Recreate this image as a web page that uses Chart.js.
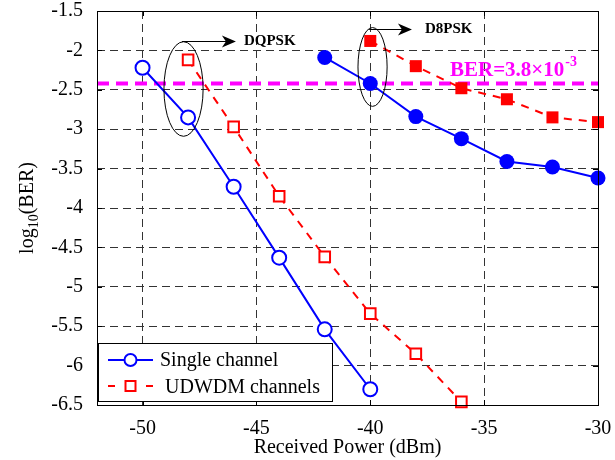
<!DOCTYPE html>
<html lang="en">
<head>
<meta charset="UTF-8" />
<title>BER vs Received Power</title>
<script src="https://cdn.jsdelivr.net/npm/chart.js"></script>
<style>
  html, body { margin: 0; padding: 0; background: #ffffff; }
  canvas { display: block; }
</style>
</head>
<body>
<canvas id="berChart" width="615" height="460"></canvas>
<script>
// axis ticks
const xTicks = [-50, -45, -40, -35, -30];
const yTicks = [-6.5, -6, -5.5, -5, -4.5, -4, -3.5, -3, -2.5, -2, -1.5];

// DQPSK curves
const dqpskSinglePower = [-50, -48, -46, -44, -42, -40];
const dqpskSingleBer = [-2.22, -2.85, -3.73, -4.63, -5.54, -6.3];
const dqpskUdwdmPower = [-48, -46, -44, -42, -40, -38, -36];
const dqpskUdwdmBer = [-2.12, -2.97, -3.85, -4.62, -5.34, -5.85, -6.46];

// D8PSK curves
const d8pskSinglePower = [-42, -40, -38, -36, -34, -32, -30];
const d8pskSingleBer = [-2.09, -2.42, -2.84, -3.12, -3.41, -3.48, -3.62];
const d8pskUdwdmPower = [-40, -38, -36, -34, -32, -30];
const d8pskUdwdmBer = [-1.88, -2.2, -2.48, -2.62, -2.85, -2.91];

// FEC limit
const berLimit = 3.8e-3;
const legendLabels = ["Single channel", "UDWDM channels"];

const FONT = "'Liberation Serif', 'Times New Roman', serif";
const BLUE = "#0000ff";
const RED = "#ff0000";
const MAGENTA = "#ff00ff";

function pts(xs, ys) {
  return xs.map((x, i) => ({ x: x, y: ys[i] }));
}

const logLimit = Math.log10(berLimit);

// everything that matlab draws on top: frame, inward ticks, ellipses, arrows, labels, legend
const decorPlugin = {
  id: "decor",
  afterDraw(chart) {
    const ctx = chart.ctx;
    const a = chart.chartArea;
    const xs = chart.scales.x;
    const ys = chart.scales.y;
    const px = (v) => xs.getPixelForValue(v);
    const py = (v) => ys.getPixelForValue(v);

    ctx.save();

    // frame
    ctx.strokeStyle = "#000";
    ctx.lineWidth = 1;
    ctx.setLineDash([]);
    ctx.strokeRect(a.left + 0.5, a.top + 0.5, a.right - a.left, a.bottom - a.top);

    // inward ticks
    ctx.beginPath();
    xTicks.forEach((v) => {
      const x = Math.round(px(v)) + 0.5;
      ctx.moveTo(x, a.bottom);
      ctx.lineTo(x, a.bottom - 5);
      ctx.moveTo(x, a.top);
      ctx.lineTo(x, a.top + 5);
    });
    yTicks.forEach((v) => {
      const y = Math.round(py(v)) + 0.5;
      ctx.moveTo(a.left, y);
      ctx.lineTo(a.left + 5, y);
      ctx.moveTo(a.right, y);
      ctx.lineTo(a.right - 5, y);
    });
    ctx.stroke();

    // ellipses round the crossing points
    ctx.beginPath();
    ctx.ellipse(px(-48.2), py(-2.49), xs.width / 22 * 0.86, ys.height / 5 * 0.6, 0, 0, Math.PI * 2);
    ctx.stroke();
    ctx.beginPath();
    ctx.ellipse(px(-39.9), py(-2.21), xs.width / 22 * 0.64, ys.height / 5 * 0.5, 0, 0, Math.PI * 2);
    ctx.stroke();

    // arrows + format labels
    function arrow(x1, x2, y) {
      ctx.beginPath();
      ctx.moveTo(x1, y);
      ctx.lineTo(x2 - 6, y);
      ctx.stroke();
      ctx.beginPath();
      ctx.moveTo(x2, y);
      ctx.lineTo(x2 - 14, y - 6);
      ctx.lineTo(x2 - 10, y);
      ctx.lineTo(x2 - 14, y + 6);
      ctx.closePath();
      ctx.fill();
    }
    ctx.fillStyle = "#000";
    const ay1 = Math.round(py(-1.88)) + 0.5;
    arrow(px(-48.27), px(-45.9), ay1);
    const ay2 = Math.round(py(-1.73)) + 0.5;
    arrow(px(-40.05), px(-38.17), ay2);

    ctx.font = "bold 15px " + FONT;
    ctx.textBaseline = "middle";
    ctx.textAlign = "left";
    ctx.fillText("DQPSK", px(-45.55), ay1);
    ctx.fillText("D8PSK", px(-37.6), ay2);

    // BER limit label
    ctx.fillStyle = MAGENTA;
    ctx.textBaseline = "alphabetic";
    ctx.font = "bold 21px " + FONT;
    const bx = px(-36.5);
    const by = py(-2.325);
    const main = "BER=3.8\u00d710";
    ctx.fillText(main, bx, by);
    const mw = ctx.measureText(main).width;
    ctx.font = "bold 14px " + FONT;
    ctx.fillText("-3", bx + mw + 1, by - 10);

    // y axis title with subscript
    ctx.fillStyle = "#000";
    ctx.translate(27, (a.top + a.bottom) / 2);
    ctx.rotate(-Math.PI / 2);
    ctx.font = "20px " + FONT;
    const w1 = ctx.measureText("log").width;
    const w3 = ctx.measureText("(BER)").width;
    ctx.font = "14px " + FONT;
    const w2 = ctx.measureText("10").width;
    let tx = -(w1 + w2 + w3) / 2;
    ctx.font = "20px " + FONT;
    ctx.fillText("log", tx, 6);
    tx += w1;
    ctx.font = "14px " + FONT;
    ctx.fillText("10", tx, 11);
    tx += w2;
    ctx.font = "20px " + FONT;
    ctx.fillText("(BER)", tx, 6);
    ctx.setTransform(1, 0, 0, 1, 0, 0);

    // legend
    const lx = 98.5, ly = 343.5, lw = 234, lh = 58;
    ctx.fillStyle = "#fff";
    ctx.fillRect(lx, ly, lw, lh);
    ctx.strokeStyle = "#000";
    ctx.lineWidth = 1;
    ctx.strokeRect(lx, ly, lw, lh);

    const r1 = 360, r2 = 386;
    ctx.lineWidth = 2;
    ctx.strokeStyle = BLUE;
    ctx.beginPath();
    ctx.moveTo(108, r1);
    ctx.lineTo(153, r1);
    ctx.stroke();
    ctx.fillStyle = "#fff";
    ctx.beginPath();
    ctx.arc(130.5, r1, 6, 0, Math.PI * 2);
    ctx.fill();
    ctx.stroke();

    ctx.strokeStyle = RED;
    ctx.beginPath();
    ctx.moveTo(108, r2);
    ctx.lineTo(115, r2);
    ctx.moveTo(146, r2);
    ctx.lineTo(153, r2);
    ctx.stroke();
    ctx.strokeRect(125.5, r2 - 5, 10, 10);

    ctx.fillStyle = "#000";
    ctx.font = "20px " + FONT;
    ctx.textBaseline = "alphabetic";
    ctx.fillText(legendLabels[0], 160, r1 + 6);
    ctx.fillText(legendLabels[1], 165, r2 + 7);

    ctx.restore();
  },
};

const ctx = document.getElementById("berChart").getContext("2d");

const berChart = new Chart(ctx, {
  type: "line",
  data: {
    datasets: [
      {
        label: "DQPSK single",
        data: pts(dqpskSinglePower, dqpskSingleBer),
        borderColor: BLUE,
        borderWidth: 2,
        pointStyle: "circle",
        pointRadius: 7,
        pointBorderWidth: 2,
        pointBorderColor: BLUE,
        pointBackgroundColor: "#fff",
        order: 1,
        clip: false,
      },
      {
        label: "DQPSK UDWDM",
        data: pts(dqpskUdwdmPower, dqpskUdwdmBer),
        borderColor: RED,
        borderWidth: 2,
        borderDash: [8, 7],
        pointStyle: "rect",
        pointRadius: 7.5,
        pointBorderWidth: 2,
        pointBorderColor: RED,
        pointBackgroundColor: "#fff",
        order: 2,
        clip: false,
      },
      {
        label: "D8PSK single",
        data: pts(d8pskSinglePower, d8pskSingleBer),
        borderColor: BLUE,
        borderWidth: 2,
        pointStyle: "circle",
        pointRadius: 7.5,
        pointBorderWidth: 0,
        pointBackgroundColor: BLUE,
        order: 1,
        clip: false,
      },
      {
        label: "D8PSK UDWDM",
        data: pts(d8pskUdwdmPower, d8pskUdwdmBer),
        borderColor: RED,
        borderWidth: 2,
        borderDash: [8, 7],
        pointStyle: "rect",
        pointRadius: 8.5,
        pointBorderWidth: 0,
        pointBackgroundColor: RED,
        order: 2,
        clip: false,
      },
      {
        label: "BER limit",
        data: [
          { x: -52, y: logLimit },
          { x: -30, y: logLimit },
        ],
        borderColor: MAGENTA,
        borderWidth: 4,
        borderDash: [12, 7],
        pointRadius: 0,
        order: 10,
      },
    ],
  },
  options: {
    responsive: false,
    animation: false,
    layout: { padding: { top: 11, right: 17, left: 0, bottom: 0 } },
    plugins: {
      legend: { display: false },
      tooltip: { enabled: false },
    },
    scales: {
      x: {
        type: "linear",
        min: -52,
        max: -30,
        afterBuildTicks: (s) => {
          s.ticks = xTicks.map((v) => ({ value: v }));
        },
        afterFit: (s) => {
          s.height = 55;
          s.paddingLeft = 0;
          s.paddingRight = 0;
        },
        grid: { color: "#333", lineWidth: 1, drawTicks: false },
        border: { display: false, dash: [8, 5] },
        ticks: {
          color: "#000",
          font: { family: FONT, size: 20 },
          padding: 12,
          maxRotation: 0,
          callback: (v) => String(v),
        },
        title: {
          display: true,
          text: "Received Power (dBm)",
          color: "#000",
          font: { family: FONT, size: 20 },
          padding: { top: 0, bottom: 0 },
        },
      },
      y: {
        type: "linear",
        min: -6.5,
        max: -1.5,
        afterBuildTicks: (s) => {
          s.ticks = yTicks.map((v) => ({ value: v }));
        },
        afterFit: (s) => {
          s.width = 97;
          s.paddingTop = 0;
          s.paddingBottom = 0;
        },
        grid: { color: "#333", lineWidth: 1, drawTicks: false },
        border: { display: false, dash: [8, 5] },
        ticks: {
          color: "#000",
          font: { family: FONT, size: 20 },
          padding: 14,
          callback: (v) => String(v),
        },
      },
    },
  },
  plugins: [decorPlugin],
});
</script>
</body>
</html>
